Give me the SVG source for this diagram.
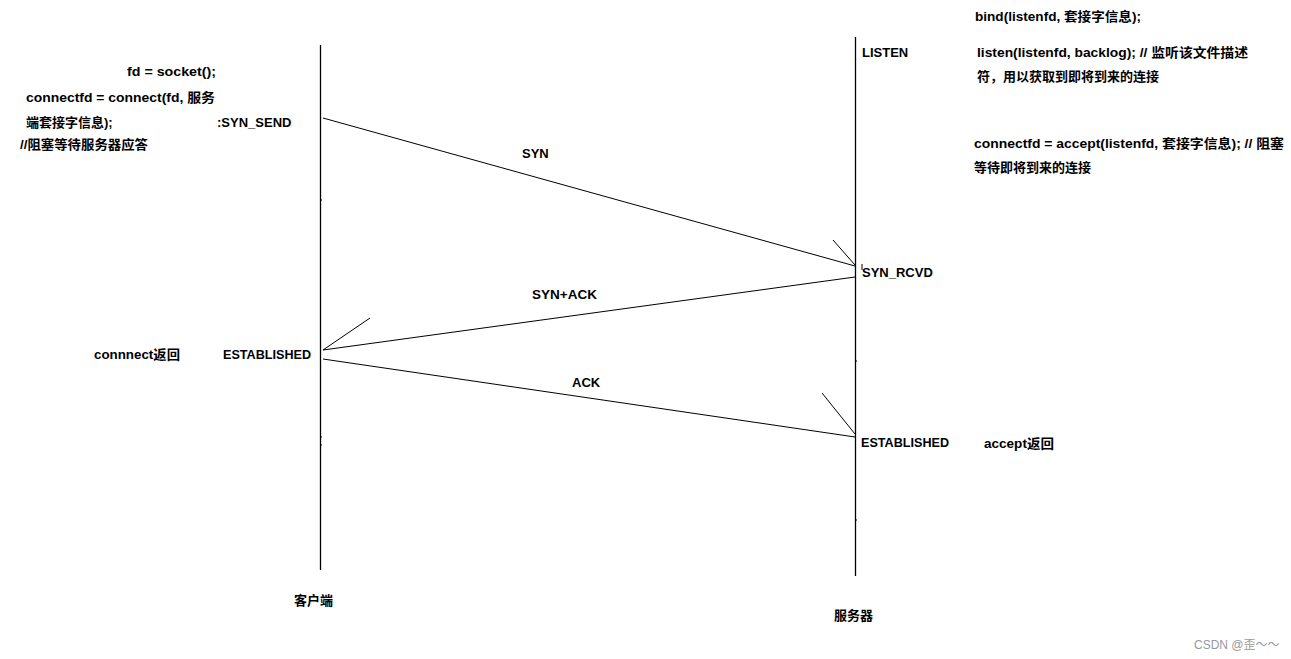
<svg xmlns="http://www.w3.org/2000/svg" width="1291" height="659" viewBox="0 0 1291 659">
<style>
.t{font-family:"Liberation Sans","Noto Sans CJK SC",sans-serif;font-weight:bold;font-size:13px;fill:#000}
.ln{stroke:#000;stroke-width:1;fill:none}
.life{stroke:#000;stroke-width:1.3;fill:none}
.wm{font-family:"Liberation Sans","Noto Sans CJK SC",sans-serif;font-size:12px;fill:#999}
</style>
<rect width="1291" height="659" fill="#fff"/>
<g id="client">
<line class="life" x1="320.5" y1="45" x2="320.5" y2="570"/>
<line class="ln" x1="321" y1="200" x2="322" y2="200"/>
<line class="ln" x1="321" y1="437" x2="322" y2="437"/>
<line class="ln" x1="321" y1="445" x2="322" y2="445"/>
<text class="t" x="294" y="605">客户端</text>
<text class="t" x="127" y="76" textLength="89" lengthAdjust="spacingAndGlyphs">fd = socket();</text>
<text class="t" x="26" y="102" textLength="189" lengthAdjust="spacingAndGlyphs">connectfd = connect(fd, 服务</text>
<text class="t" x="26" y="127">端套接字信息);</text>
<text class="t" x="20" y="149" textLength="128" lengthAdjust="spacingAndGlyphs">//阻塞等待服务器应答</text>
<text class="t" x="217" y="127">:SYN_SEND</text>
<text class="t" x="223" y="359" textLength="88" lengthAdjust="spacingAndGlyphs">ESTABLISHED</text>
<text class="t" x="94" y="359" textLength="86" lengthAdjust="spacingAndGlyphs">connnect返回</text>
</g>
<g id="server">
<line class="life" x1="855.5" y1="37" x2="855.5" y2="576"/>
<line class="ln" x1="856" y1="361" x2="857" y2="361"/>
<line class="ln" x1="856" y1="520" x2="857" y2="520"/>
<line class="ln" x1="862" y1="264" x2="862" y2="270"/>
<text class="t" x="834" y="620">服务器</text>
<text class="t" x="975" y="21" textLength="166" lengthAdjust="spacingAndGlyphs">bind(listenfd, 套接字信息);</text>
<text class="t" x="862" y="57">LISTEN</text>
<text class="t" x="977" y="57" textLength="271" lengthAdjust="spacingAndGlyphs">listen(listenfd, backlog); // 监听该文件描述</text>
<text class="t" x="977" y="81">符，用以获取到即将到来的连接</text>
<text class="t" x="974" y="148" textLength="310" lengthAdjust="spacingAndGlyphs">connectfd = accept(listenfd, 套接字信息); // 阻塞</text>
<text class="t" x="974" y="172">等待即将到来的连接</text>
<text class="t" x="862" y="277">SYN_RCVD</text>
<text class="t" x="861" y="447" textLength="88" lengthAdjust="spacingAndGlyphs">ESTABLISHED</text>
<text class="t" x="984" y="448" textLength="70" lengthAdjust="spacingAndGlyphs">accept返回</text>
</g>
<g id="connectors">
<line class="ln" x1="323" y1="118" x2="855" y2="266"/>
<line class="ln" x1="833" y1="240" x2="855" y2="265"/>
<text class="t" x="522" y="158">SYN</text>
<line class="ln" x1="855" y1="277" x2="323" y2="350"/>
<line class="ln" x1="370" y1="318" x2="323" y2="350"/>
<text class="t" x="532" y="299" textLength="65" lengthAdjust="spacingAndGlyphs">SYN+ACK</text>
<line class="ln" x1="323" y1="359" x2="855" y2="437"/>
<line class="ln" x1="822" y1="393" x2="855" y2="434"/>
<text class="t" x="572" y="387">ACK</text>
</g>
<text class="wm" x="1194" y="649">CSDN @歪～～</text>
</svg>
